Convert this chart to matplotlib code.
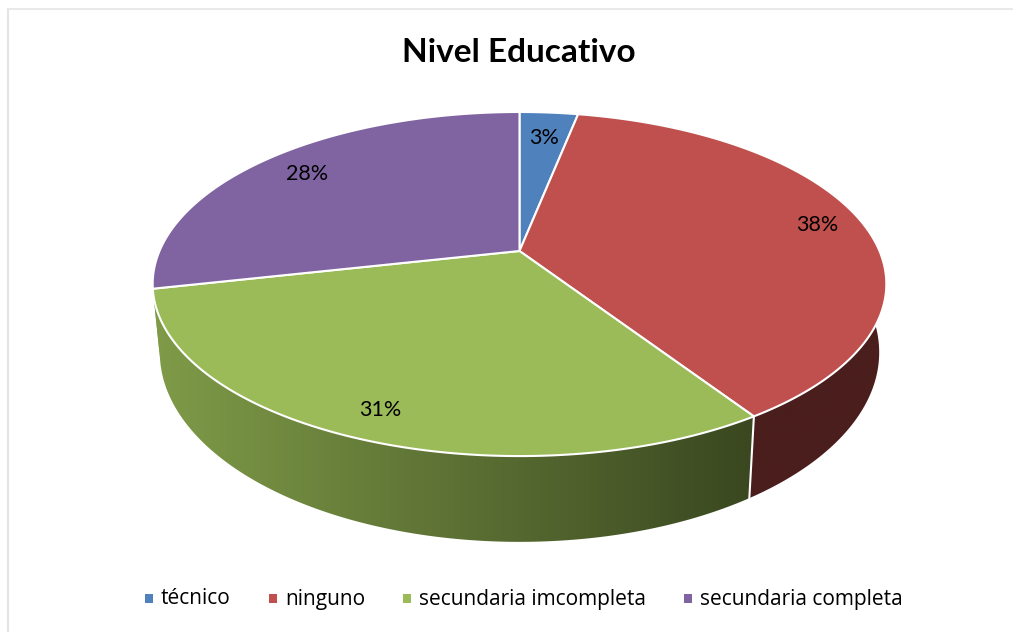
import numpy as np
import matplotlib
matplotlib.use("Agg")
import matplotlib.pyplot as plt
from matplotlib.patches import Polygon, Rectangle

title = "Nivel Educativo"
categories = ["técnico", "ninguno", "secundaria imcompleta", "secundaria completa"]
shares = [3.1, 37.7, 30.7, 28.5]
top_colors = ["#4F81BD", "#C0504D", "#9BBB59", "#8064A2"]
side_start = ["#2F4D71", "#4A1E1C", "#7F9B48", "#7F9B48"]
side_end = ["#2F4D71", "#4A1E1C", "#3A4720", "#7F9B48"]
label_radius = [0.80, 0.87, 0.87, 0.83]
legend_x = [149, 273, 407, 688]

PIE_X = 519.5
TILT = 0.192


def project(theta, r, apex_y, a, b):
    """Unit disc to picture pixels, theta clockwise from the top"""
    u = r * np.sin(theta)
    v = r * np.cos(theta)
    w = 1 + TILT * v
    return PIE_X + a * u / w, apex_y - b * v / w


def top_face(theta, r=1.0):
    return project(theta, r, 251, 360, 165.7)


def bottom_face(theta):
    return project(theta, 1.0, 316, 353, 182.5)


fig = plt.figure(figsize=(10.13, 6.32), dpi=100)
ax = fig.add_axes([0, 0, 1, 1])
ax.set_xlim(0, 1013)
ax.set_ylim(632, 0)
ax.axis("off")

# Chart frame, only top and left show in the picture
ax.plot([8, 8], [632, 9], color="#E4E4E4", linewidth=1.5)
ax.plot([8, 1013], [9, 9], color="#E9E9E9", linewidth=1.5)

ends = np.cumsum(shares) / np.sum(shares) * 2 * np.pi
starts = np.concatenate([[0], ends[:-1]])

# Sides first, the top surface covers whatever lies behind it
for i in np.argsort(-np.abs(np.pi - (starts + ends) / 2)):
    theta = np.linspace(starts[i], ends[i], 150)
    tx, ty = top_face(theta)
    bx, by = bottom_face(theta)
    pts = np.column_stack([np.r_[tx, bx[::-1]], np.r_[ty, by[::-1]]])
    rgb0 = np.array(matplotlib.colors.to_rgb(side_start[i]))
    rgb1 = np.array(matplotlib.colors.to_rgb(side_end[i]))
    ramp = np.linspace(0, 1, 256)[None, :, None]
    grad = rgb0[None, None, :] * (1 - ramp) + rgb1[None, None, :] * ramp
    extent = (pts[:, 0].min(), pts[:, 0].max(), pts[:, 1].max(), pts[:, 1].min())
    im = ax.imshow(grad, extent=extent, aspect="auto", zorder=2)
    clip = Polygon(pts, closed=True, transform=ax.transData, facecolor="none", edgecolor="none")
    ax.add_patch(clip)
    im.set_clip_path(clip)
    # Seam between two side faces, the one by the purple slice does not show
    if i < 3:
        ax.plot([tx[0], bx[0]], [ty[0], by[0]], color="white", linewidth=1.5, zorder=3)
ax.set_xlim(0, 1013)
ax.set_ylim(632, 0)

# Top surface
for i in range(len(shares)):
    theta = np.linspace(starts[i], ends[i], 200)
    tx, ty = top_face(theta)
    pts = np.column_stack([np.r_[PIE_X, tx], np.r_[251, ty]])
    ax.add_patch(Polygon(pts, closed=True, facecolor=top_colors[i], edgecolor="white",
                         linewidth=1.5, joinstyle="round", zorder=4))

# Percent labels
for i in range(len(shares)):
    lx, ly = top_face((starts[i] + ends[i]) / 2, label_radius[i])
    ax.text(lx, ly + 1, "%.0f%%" % shares[i], ha="center", va="center", fontsize=15.5,
            family="Lato", color="black", zorder=5)

ax.text(519, 53, title, ha="center", va="center", fontsize=24, fontweight="bold",
        family="Lato", color="black")

# Legend
for i in range(len(categories)):
    ax.add_patch(Rectangle((legend_x[i] - 4, 594), 8, 9, facecolor=top_colors[i], edgecolor="none"))
    ax.text(legend_x[i] + 12, 599, categories[i], ha="left", va="center", fontsize=15,
            family="Open Sans", color="black")

fig.savefig("out.png", dpi=100)
